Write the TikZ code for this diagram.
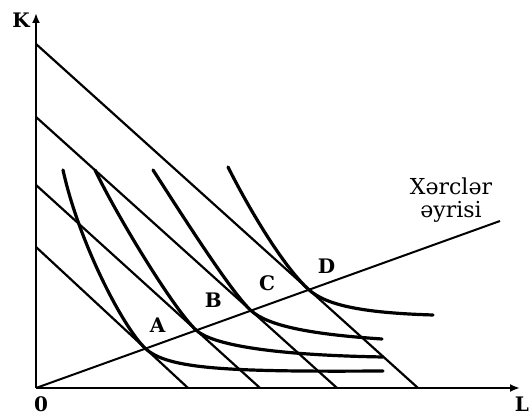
\documentclass[tikz,border=0pt]{standalone}
\usepackage{fontspec}
\setmainfont{DejaVu Serif}
\usetikzlibrary{arrows.meta,calc}

\begin{document}
\begin{tikzpicture}[
  x=5pt, y=5pt,
  axis/.style={-{Latex[length=5pt,width=4pt]}, line width=1.2pt},
  budget/.style={line width=1.1pt},
  isoquant/.style={line width=1.6pt, line cap=round},
  costline/.style={line width=1pt},
  point/.style={font=\bfseries, inner sep=0pt}
]
\useasboundingbox (-3.6,-2.8) rectangle (49.5,38.8);

\coordinate (O) at (0,0);
\coordinate (ytip) at (0,37.5);
\coordinate (xtip) at (48.4,0);
\coordinate (k1) at (0,34.4); \coordinate (l1) at (38.2,0);
\coordinate (k2) at (0,27.1); \coordinate (l2) at (30.1,0);
\coordinate (k3) at (0,20.3); \coordinate (l3) at (22.4,0);
\coordinate (k4) at (0,14.1); \coordinate (l4) at (15.2,0);
\coordinate (e) at (46.4,16.7);

\draw[axis] (O) -- (ytip);
\draw[axis] (O) -- (xtip);
\node[point] (K) at (-1.5,36.8) {K};
\node[point] (zero) at (0.5,-1.6) {0};
\node[point] (L) at (48.6,-1.6) {L};

\draw[budget] (k1) -- (l1);
\draw[budget] (k2) -- (l2);
\draw[budget] (k3) -- (l3);
\draw[budget] (k4) -- (l4);

\draw[costline] (O) -- (e);
\node[align=center, font=\fontsize{11}{11.5}\selectfont] (curve) at (41.5,18.8)
  {Xərclər\\əyrisi};

\coordinate (A) at (intersection of O--e and k4--l4);
\coordinate (B) at (intersection of O--e and k3--l3);
\coordinate (C) at (intersection of O--e and k2--l2);
\coordinate (D) at (intersection of O--e and k1--l1);

\draw[isoquant] (2.7,21.8) .. controls +(1.6,-7.3) and +(-2.2,2.04) .. (A)
  .. controls +(2.2,-2.04) and +(-15.7,-0.1) .. (34.7,1.7);
\draw[isoquant] (5.9,21.8) .. controls +(2.2,-4.6) and +(-2.2,1.99) .. (B)
  .. controls +(1.5,-1.36) and +(-11.7,0.2) .. (34.7,3.1);
\draw[isoquant] (11.7,21.8) .. controls +(2.4,-3.7) and +(-2,1.8) .. (C)
  .. controls +(1.6,-1.44) and +(-7.6,0.5) .. (34.6,4.9);
\draw[isoquant] (19.2,22.1) .. controls +(2,-4) and +(-2.6,2.34) .. (D)
  .. controls +(1.8,-1.62) and +(-6.7,0.2) .. (39.7,7.3);

\node[point] (labA) at ($(A)+(1.2,2.3)$) {A};
\node[point] (labB) at ($(B)+(1.7,3.0)$) {B};
\node[point] (labC) at ($(C)+(1.6,2.7)$) {C};
\node[point] (labD) at ($(D)+(1.75,2.35)$) {D};

\end{tikzpicture}
\end{document}
